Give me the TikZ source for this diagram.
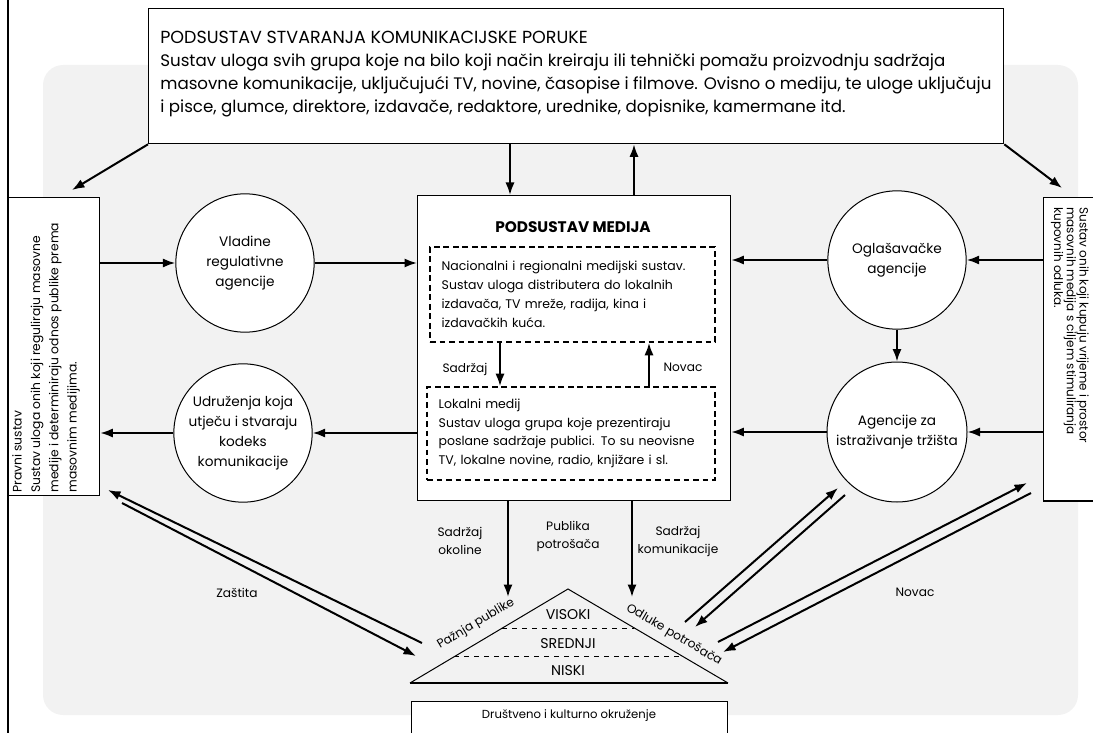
\documentclass[tikz,border=0pt]{standalone}
\usepackage{fontspec}
\setmainfont{Poppins}
\usetikzlibrary{arrows.meta,calc}
\tikzset{
  arr/.style={line width=1.2pt,-{Latex[length=7.5pt,width=5.5pt]}},
  okvir/.style={draw,fill=white,line width=0.8pt,inner sep=0pt},
  isprek/.style={draw,line width=1pt,dash pattern=on 3.5pt off 2.2pt,inner sep=6pt,align=left},
  krug/.style={circle,draw,line width=0.6pt,fill=white,minimum size=83pt,inner sep=0pt,align=center,font=\fontsize{8.2}{12}\selectfont},
  oznaka/.style={align=center,font=\fontsize{7.3}{10.8}\selectfont},
}
\begin{document}
\begin{tikzpicture}[x=0.6pt,y=-0.6pt]
\useasboundingbox (0,0) rectangle (1093,733);
\clip (0,0) rectangle (1093,733);
\fill[black!5,rounded corners=12pt] (43,65) rectangle (1078,715);
\draw[line width=0.9pt] (8,0) -- (8,733);

% podsustav poruke
\node[okvir,anchor=north west,minimum width=513pt,minimum height=81pt] (poruka) at (148,8) {};
\node[anchor=north west,inner sep=0pt,align=left,font=\fontsize{10}{13.8}\selectfont] (porukaTxt) at (160,31)
  {{\fontsize{10.5}{13.8}\selectfont PODSUSTAV STVARANJA KOMUNIKACIJSKE PORUKE}\\
   Sustav uloga svih grupa koje na bilo koji način kreiraju ili tehnički pomažu proizvodnju sadržaja\\
   masovne komunikacije, uključujući TV, novine, časopise i filmove. Ovisno o mediju, te uloge uključuju\\
   i pisce, glumce, direktore, izdavače, redaktore, urednike, dopisnike, kamermane itd.};

% podsustav medija
\node[okvir,anchor=north west,minimum width=187.8pt,minimum height=183pt] (medija) at (417,195) {};
\node[font=\fontsize{9.2}{10}\selectfont\bfseries] (medijaTxt) at (573,227) {PODSUSTAV MEDIJA};
\node[isprek,minimum width=171pt,minimum height=57pt,text width=157pt,font=\fontsize{7.5}{11.4}\selectfont] (nac) at (572.5,294.5)
  {Nacionalni i regionalni medijski sustav.\\
   Sustav uloga distributera do lokalnih\\
   izdavača, TV mreže, radija, kina i\\
   izdavačkih kuća.};
\node[isprek,minimum width=172.8pt,minimum height=55.8pt,text width=158.8pt,font=\fontsize{7.5}{11.2}\selectfont] (lok) at (571,433.5)
  {Lokalni medij\\
   Sustav uloga grupa koje prezentiraju\\
   poslane sadržaje publici. To su neovisne\\
   TV, lokalne novine, radio, knjižare i sl.};
\draw[arr] (nac.south -| 500,0) -- (lok.north -| 500,0);
\draw[arr] (lok.north -| 649,0) -- (nac.south -| 649,0);
\node[oznaka] at (465,369) {Sadržaj};
\node[oznaka] at (683,367) {Novac};

% lijeva strana
\node[okvir,anchor=north west,minimum width=54.6pt,minimum height=178.8pt] (pravni) at (8,197) {};
\node[rotate=90,anchor=north west,inner sep=0pt,align=left,font=\fontsize{7.4}{11}\selectfont] at (12,493)
  {Pravni sustav\\
   Sustav uloga onih koji reguliraju masovne\\
   medije i determiniraju odnos publike prema\\
   masovnim medijima.};
\node[krug] (vladine) at (245,263) {Vladine\\regulativne\\agencije};
\node[krug] (udruzenja) at (243,433) {Udruženja koja\\utječu i stvaraju\\kodeks\\komunikacije};

% desna strana
\node[okvir,anchor=north west,minimum width=36pt,minimum height=182pt] (kupci) at (1043,197) {};
\node[rotate=-90,anchor=north west,inner sep=0pt,align=left,font=\fontsize{7.2}{7.6}\selectfont] at (1089,207)
  {Sustav onih koji kupuju vrijeme i prostor\\
   masovnih medija s ciljem stimuliranja\\
   kupovnih odluka.};
\node[krug] (oglas) at (897,260) {Oglašavačke\\agencije};
\node[krug,minimum size=84pt] (istraz) at (897,432) {Agencije za\\istraživanje tržišta};

% veze gore
\coordinate (pravniUlaz) at (72,190);
\coordinate (kupciUlaz) at (1062,188);
\draw[arr] (poruka.south west) -- (pravniUlaz);
\draw[arr] (poruka.south east) -- (kupciUlaz);
\draw[arr] (poruka.south -| 510,0) -- (medija.north -| 510,0);
\draw[arr] (medija.north -| 634,0) -- (poruka.south -| 634,0);

% vodoravne veze
\draw[arr] (pravni.east |- vladine.west) -- (vladine.west);
\draw[arr] (vladine.east) -- (medija.west |- vladine.east);
\draw[arr] (medija.west |- udruzenja.east) -- (udruzenja.east);
\draw[arr] (udruzenja.west) -- (pravni.east |- udruzenja.west);
\draw[arr] (kupci.west |- oglas.east) -- (oglas.east);
\draw[arr] (oglas.west) -- (medija.east |- oglas.west);
\draw[arr] (oglas.south) -- (istraz.north);
\draw[arr] (kupci.west |- istraz.east) -- (istraz.east);
\draw[arr] (istraz.west) -- (medija.east |- istraz.west);

% publika
\coordinate (vrh) at (568,589);
\coordinate (lijevo) at (410,683);
\coordinate (desno) at (728,683);
\draw[line width=0.6pt] (lijevo) -- (vrh) -- (desno);
\draw[line width=0.9pt] (lijevo) -- (desno);
\draw[dashed,line width=0.6pt] ($(vrh)!0.415!(lijevo)$) -- ($(vrh)!0.415!(desno)$);
\draw[dashed,line width=0.6pt] ($(vrh)!0.72!(lijevo)$) -- ($(vrh)!0.72!(desno)$);
\node[font=\fontsize{8.5}{9}\selectfont] (visoki) at (568,615) {VISOKI};
\node[font=\fontsize{8.5}{9}\selectfont] (srednji) at (568,644) {SREDNJI};
\node[font=\fontsize{8.5}{9}\selectfont] (niski) at (568,671) {NISKI};
\node[oznaka,rotate=30.7] at (476,624) {Pažnja publike};
\node[oznaka,rotate=-30.5] at (674,635) {Odluke potrošača};
\node[okvir,anchor=north west,minimum width=189.6pt,minimum height=24pt] (okruzenje) at (411,701) {};
\node[font=\fontsize{7}{9}\selectfont] at (569,716) {Društveno i kulturno okruženje};

% veze dolje
\coordinate (ulazL) at (508,597);
\coordinate (ulazD) at (632,597);
\draw[arr] (medija.south -| ulazL) -- (ulazL);
\draw[arr] (medija.south -| ulazD) -- (ulazD);
\node[oznaka] at (460,541) {Sadržaj\\okoline};
\node[oznaka] at (568,536) {Publika\\potrošača};
\node[oznaka] at (678,541) {Sadržaj\\komunikacije};

% dvostruke strelice
\coordinate (zA) at (108,490);
\coordinate (zB) at (422,643);
\coordinate (zC) at (122,503);
\coordinate (zD) at (416,656);
\draw[arr] (zB) -- (zA);
\draw[arr] (zC) -- (zD);
\node[oznaka] at (237,593) {Zaštita};
\coordinate (oA) at (685,622);
\coordinate (oB) at (838,488);
\coordinate (oC) at (845,495);
\coordinate (oD) at (695,627);
\draw[arr] (oA) -- (oB);
\draw[arr] (oC) -- (oD);
\coordinate (nA) at (718,642);
\coordinate (nB) at (1027,483);
\coordinate (nC) at (1031,493);
\coordinate (nD) at (723,652);
\draw[arr] (nA) -- (nB);
\draw[arr] (nC) -- (nD);
\node[oznaka] at (915,592) {Novac};
\end{tikzpicture}
\end{document}
